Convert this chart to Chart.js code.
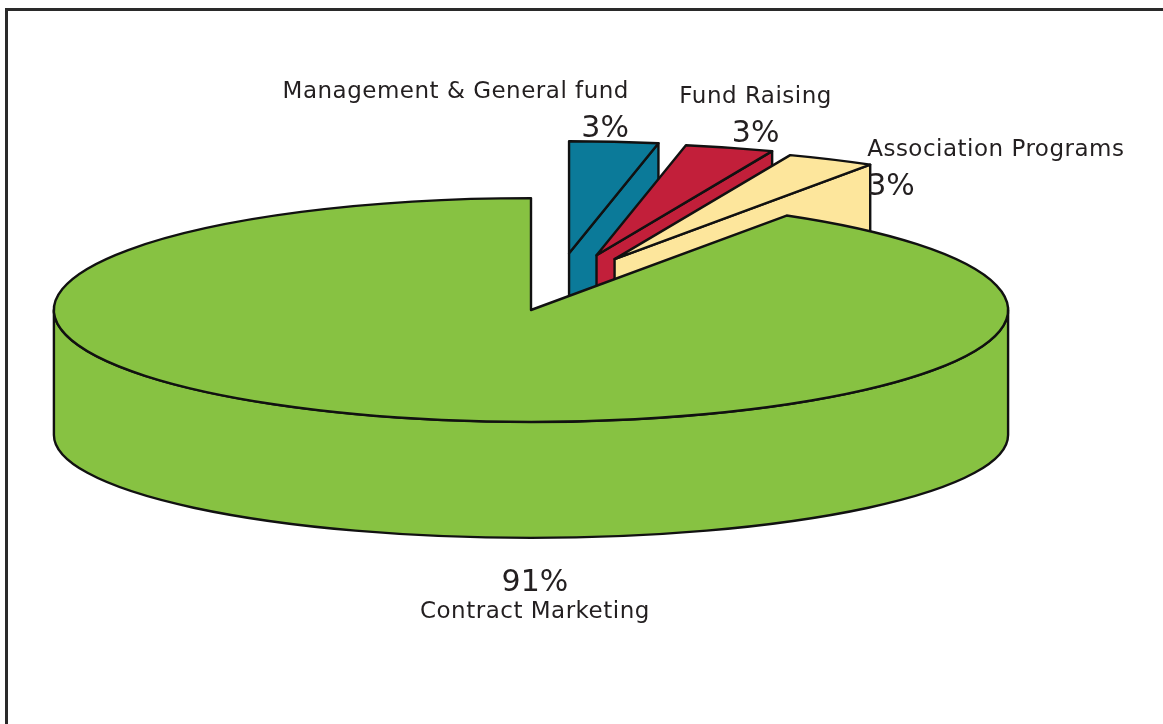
<!DOCTYPE html>
<html>
<head>
<meta charset="utf-8">
<script src="https://cdn.jsdelivr.net/npm/chart.js@4.4.1/dist/chart.umd.min.js"></script>
<style>
  html, body { margin: 0; padding: 0; background: #fff; overflow: hidden; }
  #wrap { width: 1163px; height: 724px; position: relative; }
</style>
</head>
<body>
<div id="wrap"><canvas id="chart"></canvas></div>
<script>
// slices, clockwise from 12 o'clock
const categories = ['Management & General fund', 'Fund Raising', 'Association Programs', 'Contract Marketing'];
const shares = [3, 3, 3, 91];
const sliceColors = ['#0b7a99', '#c21f3a', '#fde69c', '#87c242'];

// fake 3D pie: the library lays out the arcs, this plugin draws them tilted with a wall
const pie3d = {
    id: 'pie3d',
    beforeDraw(chart, args, opts) {
        const ctx = chart.ctx;
        ctx.save();
        ctx.strokeStyle = '#2a2a2a';
        ctx.lineWidth = 3;
        ctx.strokeRect(6.5, 9.5, 1400, 1000);
        ctx.restore();
    },
    beforeDatasetsDraw(chart, args, opts) {
        const ctx = chart.ctx;
        const arcs = chart.getDatasetMeta(0).data;
        const g = geometry(arcs[0], opts);

        const slices = arcs.map((arc, i) => {
            const p = arc.getProps(['startAngle', 'endAngle'], true);
            const mid = (p.startAngle + p.endAngle) / 2;
            return { i, s: p.startAngle, e: p.endAngle, mid, o: explodeOffset(g, mid, opts.explode[i]) };
        });
        // paint back slices first
        slices.sort((a, b) => Math.sin(a.mid) - Math.sin(b.mid));

        ctx.save();
        ctx.lineJoin = 'round';
        ctx.lineWidth = opts.lineWidth;
        ctx.strokeStyle = opts.lineColor;
        slices.forEach(sl => {
            ctx.fillStyle = sliceColors[sl.i];
            const tc = [g.cx + sl.o.dx, g.cy + sl.o.dy];
            const bc = [g.cx + sl.o.dx, g.cy + g.depth + sl.o.dy];
            const face = th => {
                ctx.beginPath();
                ctx.moveTo(tc[0], tc[1]);
                ctx.lineTo(tc[0] + g.rx * Math.cos(th), tc[1] + g.ryTop * Math.sin(th));
                ctx.lineTo(bc[0] + g.rx * Math.cos(th), bc[1] + g.ryBot * Math.sin(th));
                ctx.lineTo(bc[0], bc[1]);
                ctx.closePath();
                ctx.fill();
                ctx.stroke();
            };
            if (Math.cos(sl.s) < -1e-6) face(sl.s);
            if (Math.cos(sl.e) > 1e-6) face(sl.e);

            // outer wall, front half only
            for (let k = Math.floor(sl.s / (2 * Math.PI)) - 1; k <= Math.ceil(sl.e / (2 * Math.PI)); k++) {
                const a = Math.max(sl.s, 2 * k * Math.PI);
                const b = Math.min(sl.e, 2 * k * Math.PI + Math.PI);
                if (b - a <= 1e-6) continue;
                ctx.beginPath();
                ctx.ellipse(tc[0], tc[1], g.rx, g.ryTop, 0, a, b);
                ctx.ellipse(bc[0], bc[1], g.rx, g.ryBot, 0, b, a, true);
                ctx.closePath();
                ctx.fill();
                ctx.stroke();
            }

            // top
            ctx.beginPath();
            ctx.moveTo(tc[0], tc[1]);
            ctx.ellipse(tc[0], tc[1], g.rx, g.ryTop, 0, sl.s, sl.e);
            ctx.closePath();
            ctx.fill();
            ctx.stroke();
        });
        ctx.restore();
        return false;
    },
    afterDraw(chart, args, opts) {
        const ctx = chart.ctx;
        const arcs = chart.getDatasetMeta(0).data;
        const g = geometry(arcs[0], opts);
        const total = shares.reduce((a, b) => a + b, 0);
        ctx.save();
        ctx.fillStyle = '#231f20';
        ctx.textBaseline = 'alphabetic';
        arcs.forEach((arc, i) => {
            const p = arc.getProps(['startAngle', 'endAngle'], true);
            const mid = (p.startAngle + p.endAngle) / 2;
            const o = explodeOffset(g, mid, opts.explode[i]);
            const front = Math.sin(mid) > 0;
            const ax = g.cx + o.dx + g.rx * Math.cos(mid);
            const ay = front ? g.cy + g.depth + o.dy + g.ryBot * Math.sin(mid)
                             : g.cy + o.dy + g.ryTop * Math.sin(mid);
            const pl = opts.labels[i];
            const x = ax + pl.dx, y = ay + pl.dy;
            ctx.textAlign = pl.align;
            ctx.letterSpacing = '0px';
            ctx.font = opts.valueFont;
            ctx.fillText(Math.round(shares[i] / total * 100) + '%', x, y);
            ctx.font = opts.nameFont;
            ctx.letterSpacing = '0.5px';
            ctx.fillText(categories[i], x, pl.nameBelow ? y + 27 : y - 39);
        });
        ctx.restore();
    }
};

function geometry(arc, opts) {
    const p = arc.getProps(['x', 'y', 'outerRadius'], true);
    const R = p.outerRadius;
    return { cx: p.x, cy: p.y, rx: R * opts.rx, ryTop: R * opts.ryTop, ryBot: R * opts.ryBottom, depth: R * opts.depth };
}

function explodeOffset(g, mid, e) {
    if (!e) return { dx: 0, dy: 0 };
    const a = mid + Math.PI / 2; // angle from 12 o'clock
    const s = Math.sin(a);
    return {
        dx: e * 0.26 * g.rx * Math.sign(s) * Math.sqrt(Math.abs(s)),
        dy: -e * 0.51 * g.ryTop * Math.cos(a)
    };
}

new Chart(document.getElementById('chart'), {
    type: 'pie',
    data: {
        labels: categories,
        datasets: [{
            data: shares,
            backgroundColor: sliceColors,
            borderWidth: 0
        }]
    },
    options: {
        responsive: true,
        maintainAspectRatio: false,
        animation: false,
        layout: { padding: { left: 0, right: 101, top: 0, bottom: 104 } },
        plugins: {
            legend: { display: false },
            tooltip: { enabled: false },
            pie3d: {
                rx: 1.539, ryTop: 0.361, ryBottom: 0.332, depth: 0.403,
                explode: [1, 1, 1, 0],
                lineWidth: 2.4,
                lineColor: '#111',
                nameFont: '23px "DejaVu Sans"',
                valueFont: '30px "DejaVu Sans"',
                labels: [
                    { dx: 15, dy: -5, align: 'right', nameBelow: false },
                    { dx: 26, dy: -6, align: 'center', nameBelow: false },
                    { dx: 36, dy: 36, align: 'left', nameBelow: false },
                    { dx: 137, dy: 57, align: 'center', nameBelow: true }
                ]
            }
        }
    },
    plugins: [pie3d]
});
</script>
</body>
</html>
